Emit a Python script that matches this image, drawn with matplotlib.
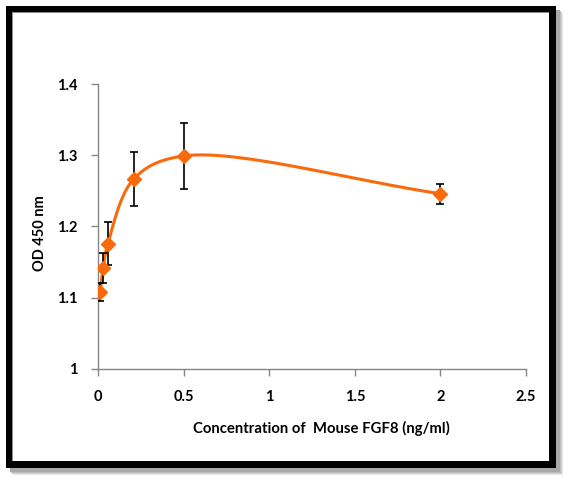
import numpy as np
import matplotlib.pyplot as plt
from matplotlib.patches import Rectangle

conc = [0.0125, 0.03, 0.058, 0.21, 0.5, 2.0]
od = [1.108, 1.142, 1.176, 1.267, 1.299, 1.246]
err = [0.012, 0.021, 0.030, 0.038, 0.046, 0.014]

xticks = [0, 0.5, 1, 1.5, 2, 2.5]
xtick_labels = ["0", "0.5", "1", "1.5", "2", "2.5"]
yticks = [1, 1.1, 1.2, 1.3, 1.4]
ytick_labels = ["1", "1.1", "1.2", "1.3", "1.4"]

orange = "#FA6A0A"

plt.rcParams['font.family'] = ['Lato', 'DejaVu Sans']

fig = plt.figure(figsize=(5.69, 4.82), dpi=100)
W, H = 569, 482

# frame with shadow
def px_rect(x0, y0, x1, y1, z, **kw):
    return Rectangle((x0 / W, 1 - y1 / H), (x1 - x0) / W, (y1 - y0) / H,
                     transform=fig.transFigure, zorder=z, **kw)

for i, c in enumerate(["#e6e6e6", "#d2d2d2", "#bdbdbd", "#a8a8a8"]):
    o = 7 - i
    fig.patches.append(px_rect(6 + o, 6 + o, 556 + o, 468 + o, -20 + i,
                               facecolor=c, edgecolor="none"))
fig.patches.append(px_rect(6, 6, 556, 468, -10, facecolor="black", edgecolor="none"))
fig.patches.append(px_rect(12, 12, 549, 461, -9, facecolor="#8c8c8c", edgecolor="none"))
fig.patches.append(px_rect(13, 13, 549, 461, -8, facecolor="white", edgecolor="none"))

ax_w, ax_h = 526 - 98, 369 - 84
ax = fig.add_axes([98 / W, 1 - 369 / H, ax_w / W, ax_h / H])
ax.patch.set_alpha(0)

# smoothed line: centripetal Catmull-Rom in screen pixel space
px = np.array(conc) / 2.5 * ax_w
py = (np.array(od) - 1.0) / 0.4 * ax_h
P = np.column_stack([px, py])
P = np.vstack([2 * P[0] - P[1], P, 2 * P[-1] - P[-2]])
sx, sy = [], []
for i in range(1, len(P) - 2):
    p0, p1, p2, p3 = P[i - 1], P[i], P[i + 1], P[i + 2]
    t0 = 0.0
    t1 = t0 + np.linalg.norm(p1 - p0) ** 0.5
    t2 = t1 + np.linalg.norm(p2 - p1) ** 0.5
    t3 = t2 + np.linalg.norm(p3 - p2) ** 0.5
    t = np.linspace(t1, t2, 80)[:, None]
    a1 = (t1 - t) / (t1 - t0) * p0 + (t - t0) / (t1 - t0) * p1
    a2 = (t2 - t) / (t2 - t1) * p1 + (t - t1) / (t2 - t1) * p2
    a3 = (t3 - t) / (t3 - t2) * p2 + (t - t2) / (t3 - t2) * p3
    b1 = (t2 - t) / (t2 - t0) * a1 + (t - t0) / (t2 - t0) * a2
    b2 = (t3 - t) / (t3 - t1) * a2 + (t - t1) / (t3 - t1) * a3
    c = (t2 - t) / (t2 - t1) * b1 + (t - t1) / (t2 - t1) * b2
    sx.extend(c[:, 0])
    sy.extend(c[:, 1])
ax.plot(np.array(sx) / ax_w * 2.5, np.array(sy) / ax_h * 0.4 + 1.0,
        color=orange, linewidth=2.2, zorder=2)

ax.errorbar(conc, od, yerr=err, fmt="none", ecolor="black", elinewidth=1.2,
            capsize=3, capthick=1.2, zorder=3)
ax.plot(conc, od, linestyle="none", marker="D", markersize=7, color=orange, zorder=4)

ax.set_xlim(0, 2.5)
ax.set_ylim(1, 1.4)
ax.set_xticks(xticks)
ax.set_xticklabels(xtick_labels)
ax.set_yticks(yticks)
ax.set_yticklabels(ytick_labels)
for s in ["top", "right"]:
    ax.spines[s].set_visible(False)
for s in ["left", "bottom"]:
    ax.spines[s].set_color("#868686")
    ax.spines[s].set_linewidth(1.0)
ax.tick_params(axis="both", direction="out", length=5, width=1.0, color="#868686",
               labelsize=10.5)
ax.tick_params(axis="x", pad=10)
ax.tick_params(axis="y", pad=10)
for lab in ax.get_xticklabels() + ax.get_yticklabels():
    lab.set_fontweight("bold")

fig.text(40 / W, 1 - 233 / H, "OD 450 nm", rotation=90, ha="center", va="center",
         fontsize=10.5, fontweight="bold")
fig.text(321 / W, 1 - 428 / H, "Concentration of  Mouse FGF8 (ng/ml)", ha="center",
         va="center", fontsize=10.7, fontweight="bold")

fig.savefig("out.png", dpi=100)
